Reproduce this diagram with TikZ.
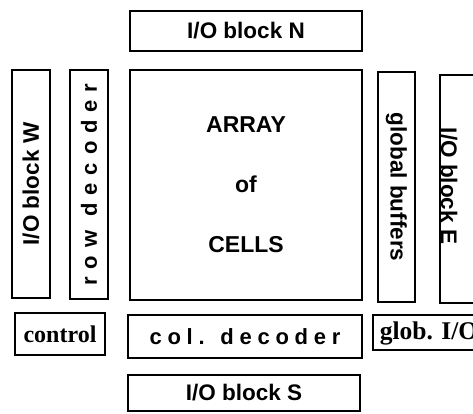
\documentclass[tikz,border=0pt]{standalone}
\usepackage{fontspec}
\setmainfont{Liberation Sans}
\newfontfamily\serifcap{Liberation Serif}
\newfontfamily\spacedrow[LetterSpace=36]{Liberation Sans}
\newfontfamily\spacedcol[LetterSpace=26]{Liberation Sans}
\usetikzlibrary{positioning}

\begin{document}
\begin{tikzpicture}[x=1pt, y=-1pt, line width=1.6pt,
    every node/.style={font=\bfseries\fontsize{22.5}{26}\selectfont, inner sep=0pt},
    blk/.style={draw, minimum width=232pt, minimum height=40pt}]
  \useasboundingbox (0,0) rectangle (473,413);
  % middle column
  \node[blk, minimum height=230pt, align=center, font=\bfseries\fontsize{23}{60}\selectfont] (array) at (246,185)
       {ARRAY\\of\\CELLS};
  \node[blk] (ioN) at (246,31) {I/O block N};
  \node[blk, minimum width=234pt, minimum height=43pt, font=\spacedcol\bfseries\fontsize{22}{26}\selectfont] (coldec) at (245,336.5)
       {col. decoder};
  \node[blk, minimum height=36pt] (ioS) at (244,393) {I/O block S};
  % left side
  \node[draw, rotate=90, minimum width=228pt, minimum height=38pt] (ioW) at (31,184) {I/O block W};
  \node[draw, rotate=90, minimum width=229pt, minimum height=38pt, font=\spacedrow\bfseries\fontsize{22}{26}\selectfont] (rowdec) at (89,184.5)
       {row decoder};
  \node[draw, minimum width=90pt, minimum height=42pt, font=\serifcap\bfseries\fontsize{24}{28}\selectfont] (ctrl) at (60,334)
       {control};
  % right side
  \node[draw, rotate=-90, minimum width=230pt, minimum height=37pt] (globbuf) at (396.5,187) {global buffers};
  \node[rotate=-90] (ioE) at (449,186) {I/O block E};
  \draw (473,75) -| (440,303) -- (473,303);
  \node[anchor=west, font=\serifcap\bfseries\fontsize{25.5}{28}\selectfont] (globio) at (379,333) {glob. I/O};
  \draw (473,315) -| (373,350) -- (473,350);
\end{tikzpicture}
\end{document}
